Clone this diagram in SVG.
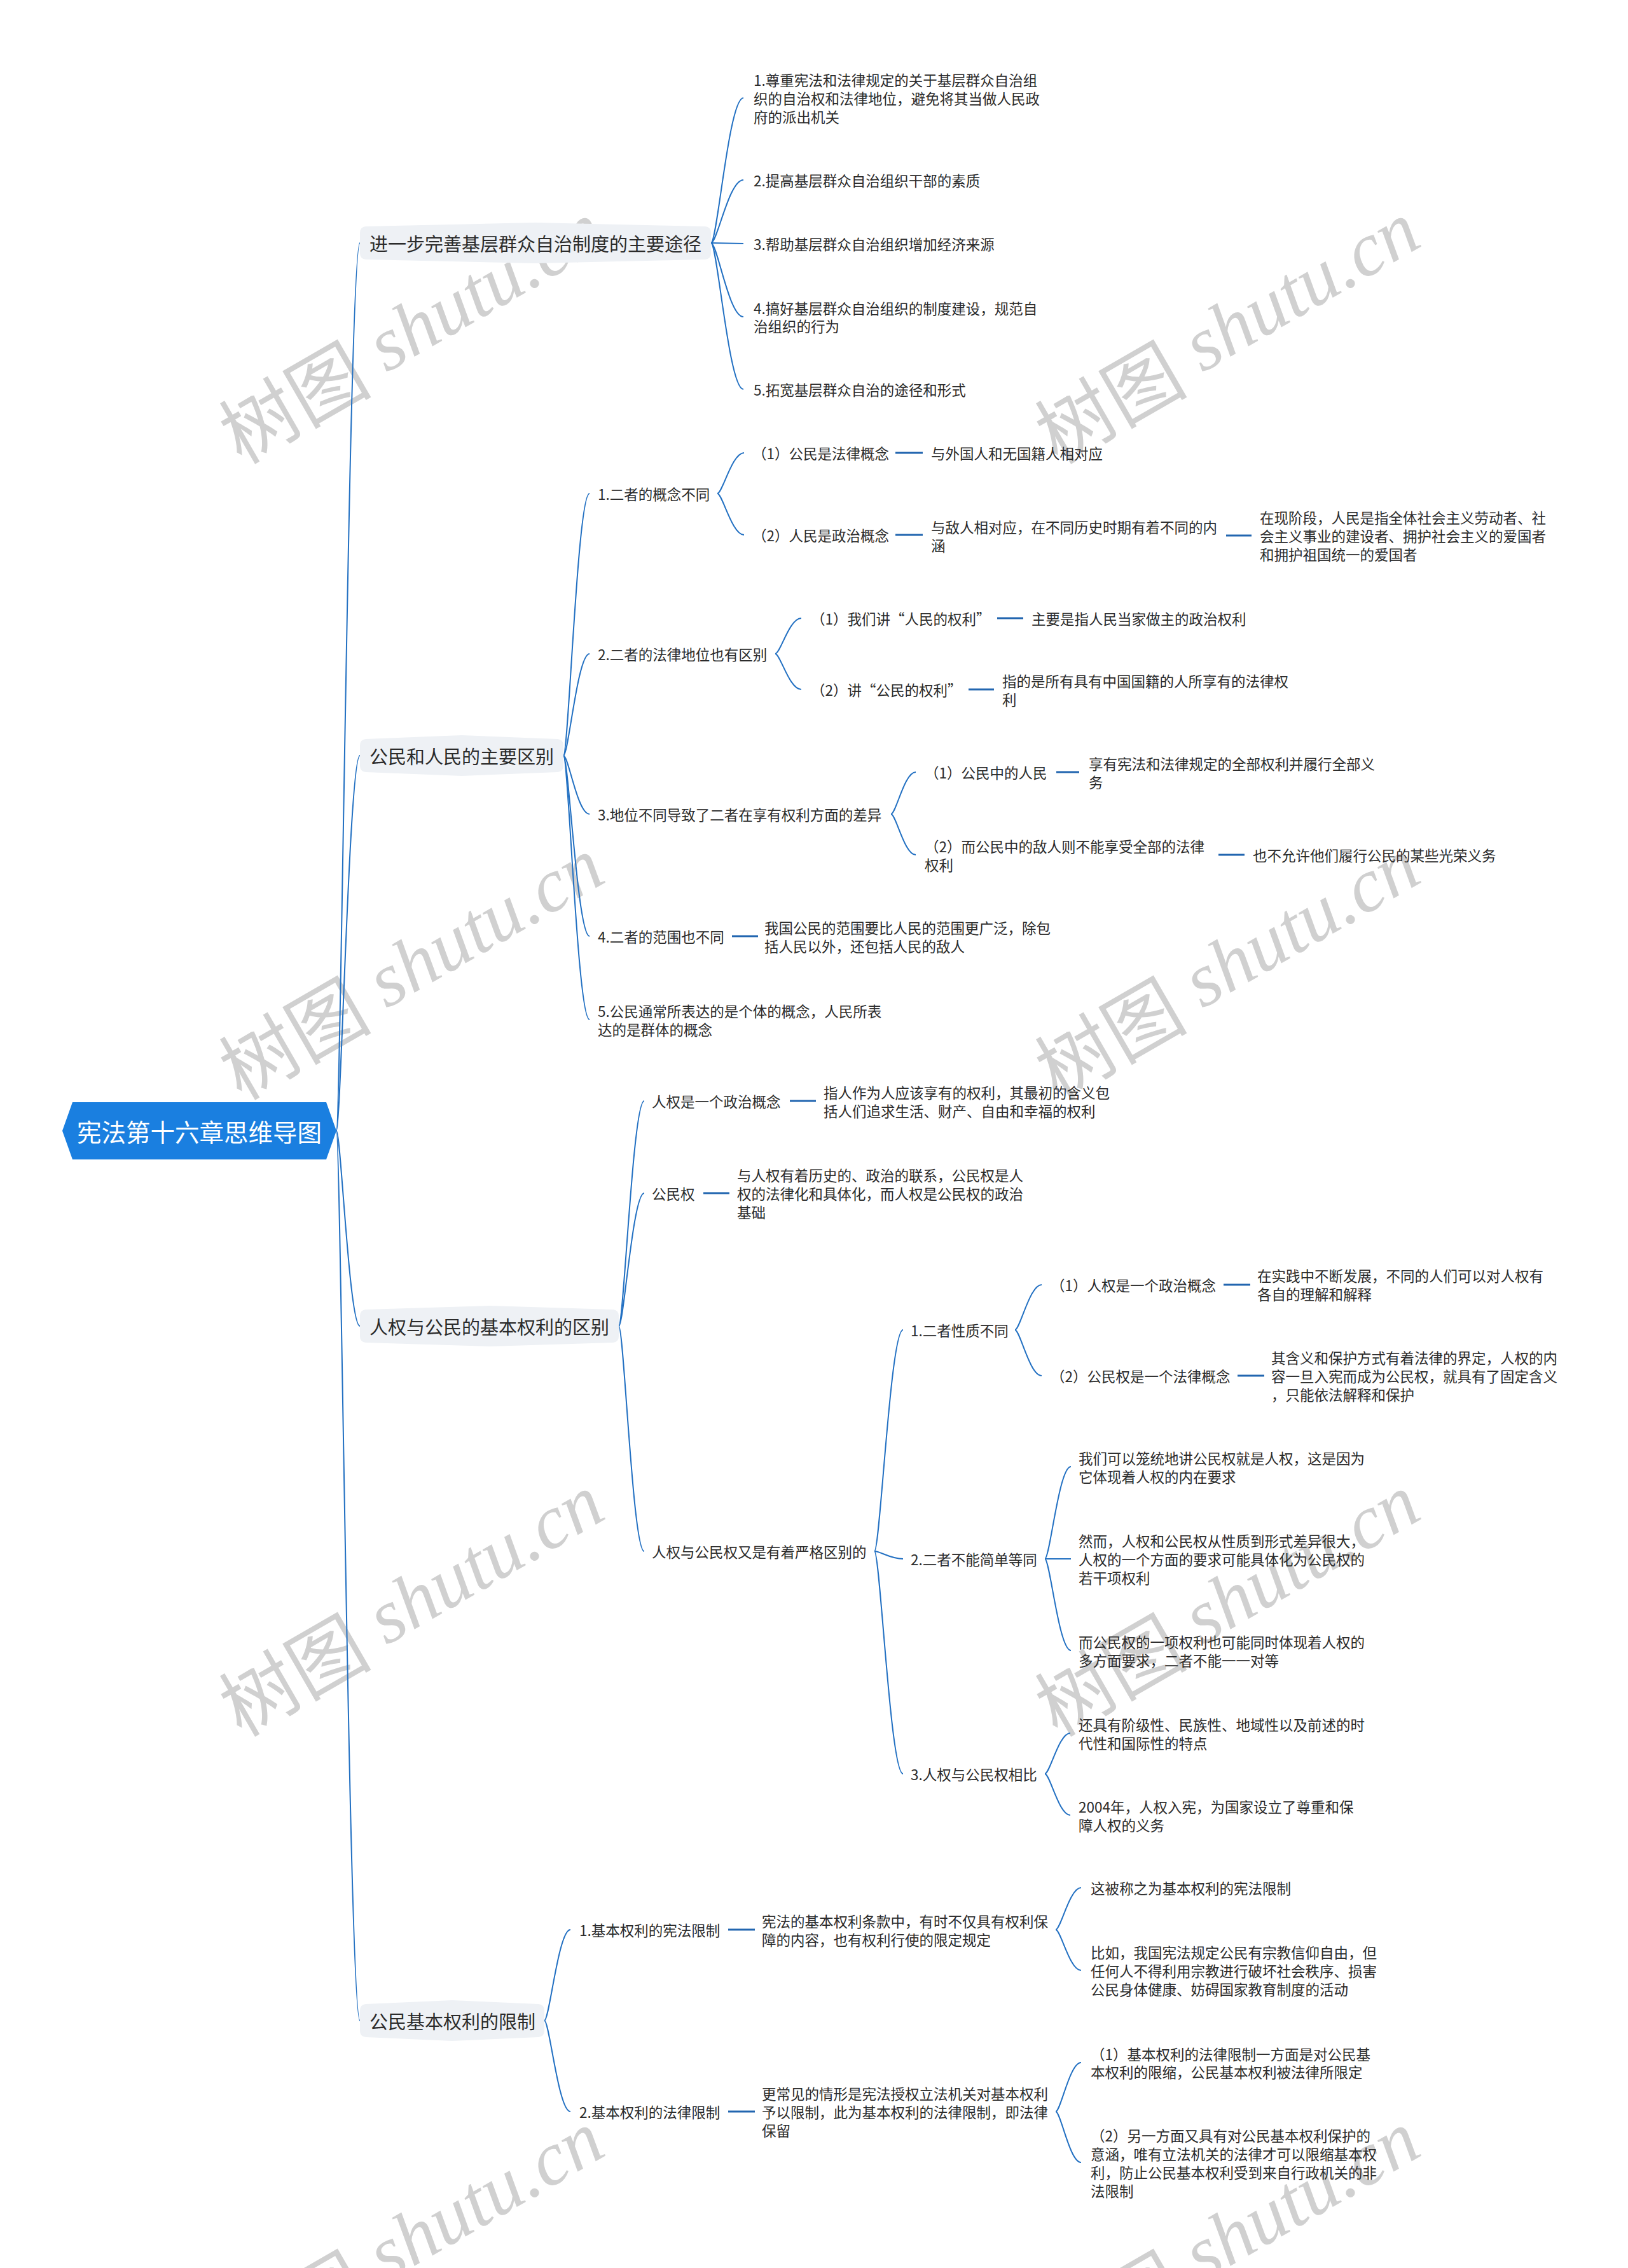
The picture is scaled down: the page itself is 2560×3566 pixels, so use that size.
<svg xmlns="http://www.w3.org/2000/svg" width="2560" height="3566" viewBox="0 0 2560 3566">
<style>
.t{font-family:"Noto Sans CJK SC","Liberation Sans",sans-serif;font-size:22.5px;fill:#2b2b2b;dominant-baseline:central}
.l1{font-family:"Noto Sans CJK SC","Liberation Sans",sans-serif;font-size:29px;fill:#2b2b2b;dominant-baseline:central}
.rt{font-family:"Noto Sans CJK SC","Liberation Sans",sans-serif;font-size:38.5px;fill:#ffffff;dominant-baseline:central;text-anchor:middle}
.box{fill:#eef1f5}
.c{fill:none;stroke:#2270c2;stroke-width:2}
.d{fill:none;stroke:#2266b0;stroke-width:3}
.wm{font-family:"Liberation Serif","DejaVu Serif",serif;font-style:italic;font-size:120px;fill:#d0d0d0;text-anchor:middle;dominant-baseline:central}
.zh{font-family:"Noto Sans CJK SC",sans-serif;font-style:normal}
</style>
<rect width="2560" height="3566" fill="#ffffff"/>
<g id="watermarks">
<text class="wm" transform="translate(645,518) rotate(-30)"><tspan class="zh">树图</tspan> shutu.cn</text>
<text class="wm" transform="translate(1928,518) rotate(-30)"><tspan class="zh">树图</tspan> shutu.cn</text>
<text class="wm" transform="translate(645,1518) rotate(-30)"><tspan class="zh">树图</tspan> shutu.cn</text>
<text class="wm" transform="translate(1928,1518) rotate(-30)"><tspan class="zh">树图</tspan> shutu.cn</text>
<text class="wm" transform="translate(645,2519) rotate(-30)"><tspan class="zh">树图</tspan> shutu.cn</text>
<text class="wm" transform="translate(1928,2519) rotate(-30)"><tspan class="zh">树图</tspan> shutu.cn</text>
<text class="wm" transform="translate(645,3520) rotate(-30)"><tspan class="zh">树图</tspan> shutu.cn</text>
<text class="wm" transform="translate(1928,3520) rotate(-30)"><tspan class="zh">树图</tspan> shutu.cn</text>
</g>
<g id="connectors">
<path class="c" d="M529,1778 C536,1778 549,382 566,382"/>
<path class="c" d="M529,1778 C536,1778 549,1188 566,1188"/>
<path class="c" d="M529,1778 C536,1778 549,2085 566,2085"/>
<path class="c" d="M529,1778 C536,1778 549,3177 566,3177"/>
<path class="c" d="M1118,382 C1128,382 1146,154 1169,154"/>
<path class="c" d="M1118,382 C1128,382 1146,283 1169,283"/>
<path class="c" d="M1118,382 L1169,383"/>
<path class="c" d="M1118,382 C1128,382 1146,498 1169,498"/>
<path class="c" d="M1118,382 C1128,382 1146,612 1169,612"/>
<path class="c" d="M886,1188 C894,1188 908,776 927,776"/>
<path class="c" d="M886,1188 C894,1188 908,1028 927,1028"/>
<path class="c" d="M886,1188 C894,1188 908,1280 927,1280"/>
<path class="c" d="M886,1188 C894,1188 908,1472 927,1472"/>
<path class="c" d="M886,1188 C894,1188 908,1603 927,1603"/>
<path class="c" d="M1128,776 C1136,776 1151,712 1170,712"/>
<path class="c" d="M1128,776 C1136,776 1151,841 1170,841"/>
<path class="c" d="M1219,1028 C1227,1028 1241,972 1260,972"/>
<path class="c" d="M1219,1028 C1227,1028 1241,1084 1260,1084"/>
<path class="c" d="M1401,1280 C1409,1280 1422,1214 1440,1214"/>
<path class="c" d="M1401,1280 C1409,1280 1422,1344 1440,1344"/>
<path class="c" d="M973,2085 C981,2085 995,1731 1013,1731"/>
<path class="c" d="M973,2085 C981,2085 995,1876 1013,1876"/>
<path class="c" d="M973,2085 C981,2085 995,2439 1013,2439"/>
<path class="c" d="M1375,2439 C1384,2439 1400,2091 1420,2091"/>
<path class="c" d="M1375,2439 C1384,2439 1400,2451 1420,2451"/>
<path class="c" d="M1375,2439 C1384,2439 1400,2789 1420,2789"/>
<path class="c" d="M1596,2091 C1604,2091 1619,2020 1638,2020"/>
<path class="c" d="M1596,2091 C1604,2091 1619,2163 1638,2163"/>
<path class="c" d="M1643,2451 C1651,2451 1665,2306 1684,2306"/>
<path class="c" d="M1643,2451 L1684,2451"/>
<path class="c" d="M1643,2451 C1651,2451 1665,2595 1684,2595"/>
<path class="c" d="M1643,2789 C1651,2789 1665,2725 1683,2725"/>
<path class="c" d="M1643,2789 C1651,2789 1665,2854 1683,2854"/>
<path class="c" d="M856,3177 C864,3177 878,3034 897,3034"/>
<path class="c" d="M856,3177 C864,3177 878,3320 897,3320"/>
<path class="c" d="M1660,3034 C1668,3034 1682,2968 1700,2968"/>
<path class="c" d="M1660,3034 C1668,3034 1682,3098 1700,3098"/>
<path class="c" d="M1660,3320 C1668,3320 1682,3243 1700,3243"/>
<path class="c" d="M1660,3320 C1668,3320 1682,3400 1700,3400"/>
<path class="d" d="M1408,712 H1451"/>
<path class="d" d="M1408,841 H1451"/>
<path class="d" d="M1928,842 H1968"/>
<path class="d" d="M1568,972 H1609"/>
<path class="d" d="M1523,1084 H1563"/>
<path class="d" d="M1661,1214 H1697"/>
<path class="d" d="M1916,1344 H1957"/>
<path class="d" d="M1151,1472 H1192"/>
<path class="d" d="M1242,1731 H1283"/>
<path class="d" d="M1106,1876 H1147"/>
<path class="d" d="M1924,2020 H1966"/>
<path class="d" d="M1946,2163 H1988"/>
<path class="d" d="M1145,3034 H1187"/>
<path class="d" d="M1145,3320 H1187"/>
</g>
<g id="root">
<polygon points="98,1778 114,1733 513,1733 529,1778 513,1823 114,1823" fill="#1a7fe0"/>
<text class="rt" x="313.5" y="1778">宪法第十六章思维导图</text>
</g>
<g id="n-a">
<path class="box" d="M566,366 Q566,357 575,356 L842,350 L1109,356 Q1118,357 1118,366 L1118,398 Q1118,407 1109,408 L842,414 L575,408 Q566,407 566,398 Z"/>
<text class="l1" x="581" y="382">进一步完善基层群众自治制度的主要途径</text>
</g>
<g id="n-a1"><text class="t"><tspan x="1185" y="125">1.尊重宪法和法律规定的关于基层群众自治组</tspan><tspan x="1185" y="154">织的自治权和法律地位，避免将其当做人民政</tspan><tspan x="1185" y="183">府的派出机关</tspan></text></g>
<g id="n-a2"><text class="t" x="1185" y="283">2.提高基层群众自治组织干部的素质</text></g>
<g id="n-a3"><text class="t" x="1185" y="383">3.帮助基层群众自治组织增加经济来源</text></g>
<g id="n-a4"><text class="t"><tspan x="1185" y="484">4.搞好基层群众自治组织的制度建设，规范自</tspan><tspan x="1185" y="512">治组织的行为</tspan></text></g>
<g id="n-a5"><text class="t" x="1185" y="612">5.拓宽基层群众自治的途径和形式</text></g>
<g id="n-b">
<path class="box" d="M566,1172 Q566,1163 575,1162 L726,1156 L877,1162 Q886,1163 886,1172 L886,1204 Q886,1213 877,1214 L726,1220 L575,1214 Q566,1213 566,1204 Z"/>
<text class="l1" x="581" y="1188">公民和人民的主要区别</text>
</g>
<g id="n-b1"><text class="t" x="940" y="776">1.二者的概念不同</text></g>
<g id="n-b1a"><text class="t" x="1183" y="712">（1）公民是法律概念</text></g>
<g id="n-b1a1"><text class="t" x="1464" y="712">与外国人和无国籍人相对应</text></g>
<g id="n-b1b"><text class="t" x="1183" y="841">（2）人民是政治概念</text></g>
<g id="n-b1b1"><text class="t"><tspan x="1464" y="828">与敌人相对应，在不同历史时期有着不同的内</tspan><tspan x="1464" y="857">涵</tspan></text></g>
<g id="n-b1b1a"><text class="t"><tspan x="1981" y="813">在现阶段，人民是指全体社会主义劳动者、社</tspan><tspan x="1981" y="842">会主义事业的建设者、拥护社会主义的爱国者</tspan><tspan x="1981" y="871">和拥护祖国统一的爱国者</tspan></text></g>
<g id="n-b2"><text class="t" x="940" y="1028">2.二者的法律地位也有区别</text></g>
<g id="n-b2a"><text class="t" x="1275" y="972">（1）我们讲“人民的权利”</text></g>
<g id="n-b2a1"><text class="t" x="1622" y="972">主要是指人民当家做主的政治权利</text></g>
<g id="n-b2b"><text class="t" x="1275" y="1084">（2）讲“公民的权利”</text></g>
<g id="n-b2b1"><text class="t"><tspan x="1576" y="1070">指的是所有具有中国国籍的人所享有的法律权</tspan><tspan x="1576" y="1099">利</tspan></text></g>
<g id="n-b3"><text class="t" x="940" y="1280">3.地位不同导致了二者在享有权利方面的差异</text></g>
<g id="n-b3a"><text class="t" x="1454" y="1214">（1）公民中的人民</text></g>
<g id="n-b3a1"><text class="t"><tspan x="1712" y="1200">享有宪法和法律规定的全部权利并履行全部义</tspan><tspan x="1712" y="1229">务</tspan></text></g>
<g id="n-b3b"><text class="t"><tspan x="1454" y="1330">（2）而公民中的敌人则不能享受全部的法律</tspan><tspan x="1454" y="1359">权利</tspan></text></g>
<g id="n-b3b1"><text class="t" x="1970" y="1344">也不允许他们履行公民的某些光荣义务</text></g>
<g id="n-b4"><text class="t" x="940" y="1472">4.二者的范围也不同</text></g>
<g id="n-b4a"><text class="t"><tspan x="1202" y="1458">我国公民的范围要比人民的范围更广泛，除包</tspan><tspan x="1202" y="1487">括人民以外，还包括人民的敌人</tspan></text></g>
<g id="n-b5"><text class="t"><tspan x="940" y="1589">5.公民通常所表达的是个体的概念，人民所表</tspan><tspan x="940" y="1618">达的是群体的概念</tspan></text></g>
<g id="n-c">
<path class="box" d="M566,2069 Q566,2060 575,2059 L770,2053 L964,2059 Q973,2060 973,2069 L973,2101 Q973,2110 964,2111 L770,2117 L575,2111 Q566,2110 566,2101 Z"/>
<text class="l1" x="581" y="2085">人权与公民的基本权利的区别</text>
</g>
<g id="n-c1"><text class="t" x="1025" y="1731">人权是一个政治概念</text></g>
<g id="n-c1a"><text class="t"><tspan x="1295" y="1717">指人作为人应该享有的权利，其最初的含义包</tspan><tspan x="1295" y="1746">括人们追求生活、财产、自由和幸福的权利</tspan></text></g>
<g id="n-c2"><text class="t" x="1025" y="1876">公民权</text></g>
<g id="n-c2a"><text class="t"><tspan x="1159" y="1847">与人权有着历史的、政治的联系，公民权是人</tspan><tspan x="1159" y="1876">权的法律化和具体化，而人权是公民权的政治</tspan><tspan x="1159" y="1905">基础</tspan></text></g>
<g id="n-c3"><text class="t" x="1025" y="2439">人权与公民权又是有着严格区别的</text></g>
<g id="n-c3a"><text class="t" x="1432" y="2091">1.二者性质不同</text></g>
<g id="n-c3a1"><text class="t" x="1652" y="2020">（1）人权是一个政治概念</text></g>
<g id="n-c3a1a"><text class="t"><tspan x="1977" y="2005">在实践中不断发展，不同的人们可以对人权有</tspan><tspan x="1977" y="2034">各自的理解和解释</tspan></text></g>
<g id="n-c3a2"><text class="t" x="1652" y="2163">（2）公民权是一个法律概念</text></g>
<g id="n-c3a2a"><text class="t"><tspan x="1999" y="2134">其含义和保护方式有着法律的界定，人权的内</tspan><tspan x="1999" y="2163">容一旦入宪而成为公民权，就具有了固定含义</tspan><tspan x="1999" y="2192">，只能依法解释和保护</tspan></text></g>
<g id="n-c3b"><text class="t" x="1432" y="2451">2.二者不能简单等同</text></g>
<g id="n-c3b1"><text class="t"><tspan x="1696" y="2292">我们可以笼统地讲公民权就是人权，这是因为</tspan><tspan x="1696" y="2321">它体现着人权的内在要求</tspan></text></g>
<g id="n-c3b2"><text class="t"><tspan x="1696" y="2422">然而，人权和公民权从性质到形式差异很大，</tspan><tspan x="1696" y="2451">人权的一个方面的要求可能具体化为公民权的</tspan><tspan x="1696" y="2480">若干项权利</tspan></text></g>
<g id="n-c3b3"><text class="t"><tspan x="1696" y="2581">而公民权的一项权利也可能同时体现着人权的</tspan><tspan x="1696" y="2610">多方面要求，二者不能一一对等</tspan></text></g>
<g id="n-c3c"><text class="t" x="1432" y="2789">3.人权与公民权相比</text></g>
<g id="n-c3c1"><text class="t"><tspan x="1696" y="2711">还具有阶级性、民族性、地域性以及前述的时</tspan><tspan x="1696" y="2740">代性和国际性的特点</tspan></text></g>
<g id="n-c3c2"><text class="t"><tspan x="1696" y="2840">2004年，人权入宪，为国家设立了尊重和保</tspan><tspan x="1696" y="2869">障人权的义务</tspan></text></g>
<g id="n-d">
<path class="box" d="M566,3161 Q566,3152 575,3151 L711,3145 L847,3151 Q856,3152 856,3161 L856,3193 Q856,3202 847,3203 L711,3209 L575,3203 Q566,3202 566,3193 Z"/>
<text class="l1" x="581" y="3177">公民基本权利的限制</text>
</g>
<g id="n-d1"><text class="t" x="911" y="3034">1.基本权利的宪法限制</text></g>
<g id="n-d1a"><text class="t"><tspan x="1198" y="3020">宪法的基本权利条款中，有时不仅具有权利保</tspan><tspan x="1198" y="3049">障的内容，也有权利行使的限定规定</tspan></text></g>
<g id="n-d1a1"><text class="t" x="1715" y="2968">这被称之为基本权利的宪法限制</text></g>
<g id="n-d1a2"><text class="t"><tspan x="1715" y="3069">比如，我国宪法规定公民有宗教信仰自由，但</tspan><tspan x="1715" y="3098">任何人不得利用宗教进行破坏社会秩序、损害</tspan><tspan x="1715" y="3127">公民身体健康、妨碍国家教育制度的活动</tspan></text></g>
<g id="n-d2"><text class="t" x="911" y="3320">2.基本权利的法律限制</text></g>
<g id="n-d2a"><text class="t"><tspan x="1198" y="3291">更常见的情形是宪法授权立法机关对基本权利</tspan><tspan x="1198" y="3320">予以限制，此为基本权利的法律限制，即法律</tspan><tspan x="1198" y="3349">保留</tspan></text></g>
<g id="n-d2a1"><text class="t"><tspan x="1715" y="3229">（1）基本权利的法律限制一方面是对公民基</tspan><tspan x="1715" y="3257">本权利的限缩，公民基本权利被法律所限定</tspan></text></g>
<g id="n-d2a2"><text class="t"><tspan x="1715" y="3357">（2）另一方面又具有对公民基本权利保护的</tspan><tspan x="1715" y="3386">意涵，唯有立法机关的法律才可以限缩基本权</tspan><tspan x="1715" y="3415">利，防止公民基本权利受到来自行政机关的非</tspan><tspan x="1715" y="3444">法限制</tspan></text></g>
</svg>
